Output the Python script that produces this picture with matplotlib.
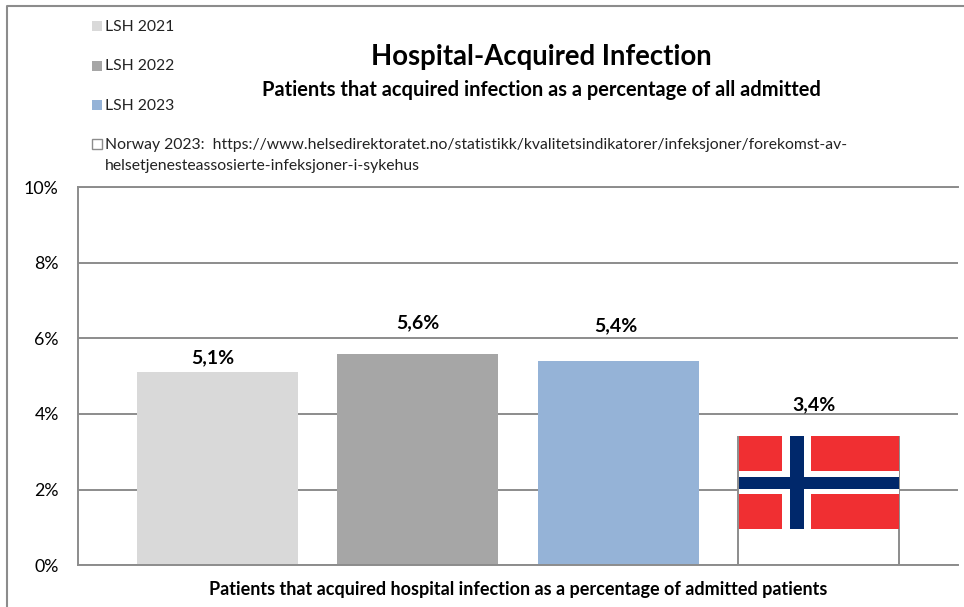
import matplotlib
matplotlib.use('Agg')
import matplotlib.pyplot as plt
from matplotlib.patches import Rectangle

plt.rcParams['font.family'] = ['Lato', 'DejaVu Sans']

# data
labels = ['LSH 2021', 'LSH 2022', 'LSH 2023', 'Norway 2023']
values = [5.1, 5.6, 5.4, 3.4]
value_text = ['5,1%', '5,6%', '5,4%', '3,4%']
yticks = [0, 2, 4, 6, 8, 10]
ytick_labels = ['0%', '2%', '4%', '6%', '8%', '10%']
colors = ['#d9d9d9', '#a6a6a6', '#95b3d7', 'white']
grey = '#8c8c8c'

W, H = 964, 607
fig = plt.figure(figsize=(W / 100, H / 100), dpi=100)
ax = fig.add_axes([77.5 / W, 1 - 565 / H, 880.5 / W, 377.5 / H])

# outer chart frame
fig.add_artist(plt.Line2D([6.5 / W, 6.5 / W, 1.01], [0, 1 - 6 / H, 1 - 6 / H], color=grey, lw=1.5))

x = range(len(values))
bars = ax.bar(x, values, width=0.804, color=colors, zorder=2)
bars[3].set_edgecolor(grey)
bars[3].set_linewidth(1.4)

# flag covers the top part of the Norway bar
bar = bars[3]
fx0, fw = bar.get_x(), bar.get_width()
ftop = bar.get_height()
fbot = 0.95
fh = ftop - fbot
def flag_rect(x0, x1, y0, y1, c):
    ax.add_patch(Rectangle((fx0 + x0 * fw, fbot + y0 * fh), (x1 - x0) * fw, (y1 - y0) * fh,
                           fc=c, ec='none', zorder=3))
flag_rect(0.005, 1.0, 0, 1.012, '#f02f32')
flag_rect(0.275, 0.457, 0, 1.012, 'white')
flag_rect(0.005, 1.0, 0.376, 0.624, 'white')
flag_rect(0.322, 0.412, 0, 1.012, '#00286b')
flag_rect(0.005, 1.0, 0.435, 0.565, '#00286b')

# label positions around the bars differ in the original
y_offsets = [0.17, 0.58, 0.71, 0.62]
x_offsets = [-0.025, 0, -0.012, -0.02]
for i, v in enumerate(values):
    ax.text(i + x_offsets[i], v + y_offsets[i], value_text[i], ha='center', va='bottom',
            fontsize=14, fontweight='bold', color='black')

ax.set_xlim(-0.699, 3.697)
ax.set_ylim(0, 10)
ax.set_yticks(yticks)
ax.set_yticklabels(ytick_labels)
ax.set_xticks([])
ax.tick_params(axis='y', length=0, pad=13.5, labelsize=12.8)
ax.grid(axis='y', color=grey, lw=1.4, zorder=1)
ax.set_axisbelow(True)
for s in ['top', 'left', 'bottom']:
    ax.spines[s].set_color(grey)
    ax.spines[s].set_linewidth(1.4)
ax.spines['right'].set_visible(False)

# titles
fig.text(541.5 / W, 1 - 57 / H, 'Hospital-Acquired Infection', ha='center', va='center',
         fontsize=19.8, fontweight='bold')
fig.text(541 / W, 1 - 90 / H, 'Patients that acquired infection as a percentage of all admitted',
         ha='center', va='center', fontsize=14.4, fontweight='bold')
fig.text(518 / W, 1 - 590 / H, 'Patients that acquired hospital infection as a percentage of admitted patients',
         ha='center', va='center', fontsize=13, fontweight='bold')

# legend, laid out by hand like the original
legend_y = [26, 66, 105, 144]
text_y = [27, 66, 106, 145]
legend_text = ['LSH 2021', 'LSH 2022', 'LSH 2023',
               'Norway 2023:  https://www.helsedirektoratet.no/statistikk/kvalitetsindikatorer/infeksjoner/forekomst-av-']
for i, y in enumerate(legend_y):
    ec = grey if i == 3 else 'none'
    fig.add_artist(Rectangle((92 / W, 1 - (y + 5) / H), 10 / W, 10 / H, transform=fig.transFigure,
                             fc=colors[i], ec=ec, lw=1))
    fig.text(105 / W, 1 - text_y[i] / H, legend_text[i], va='center', fontsize=11.3, color='#222222')
fig.text(105 / W, 1 - 166 / H, 'helsetjenesteassosierte-infeksjoner-i-sykehus', va='center',
         fontsize=11.3, color='#222222')

fig.savefig('out.png', dpi=100)
